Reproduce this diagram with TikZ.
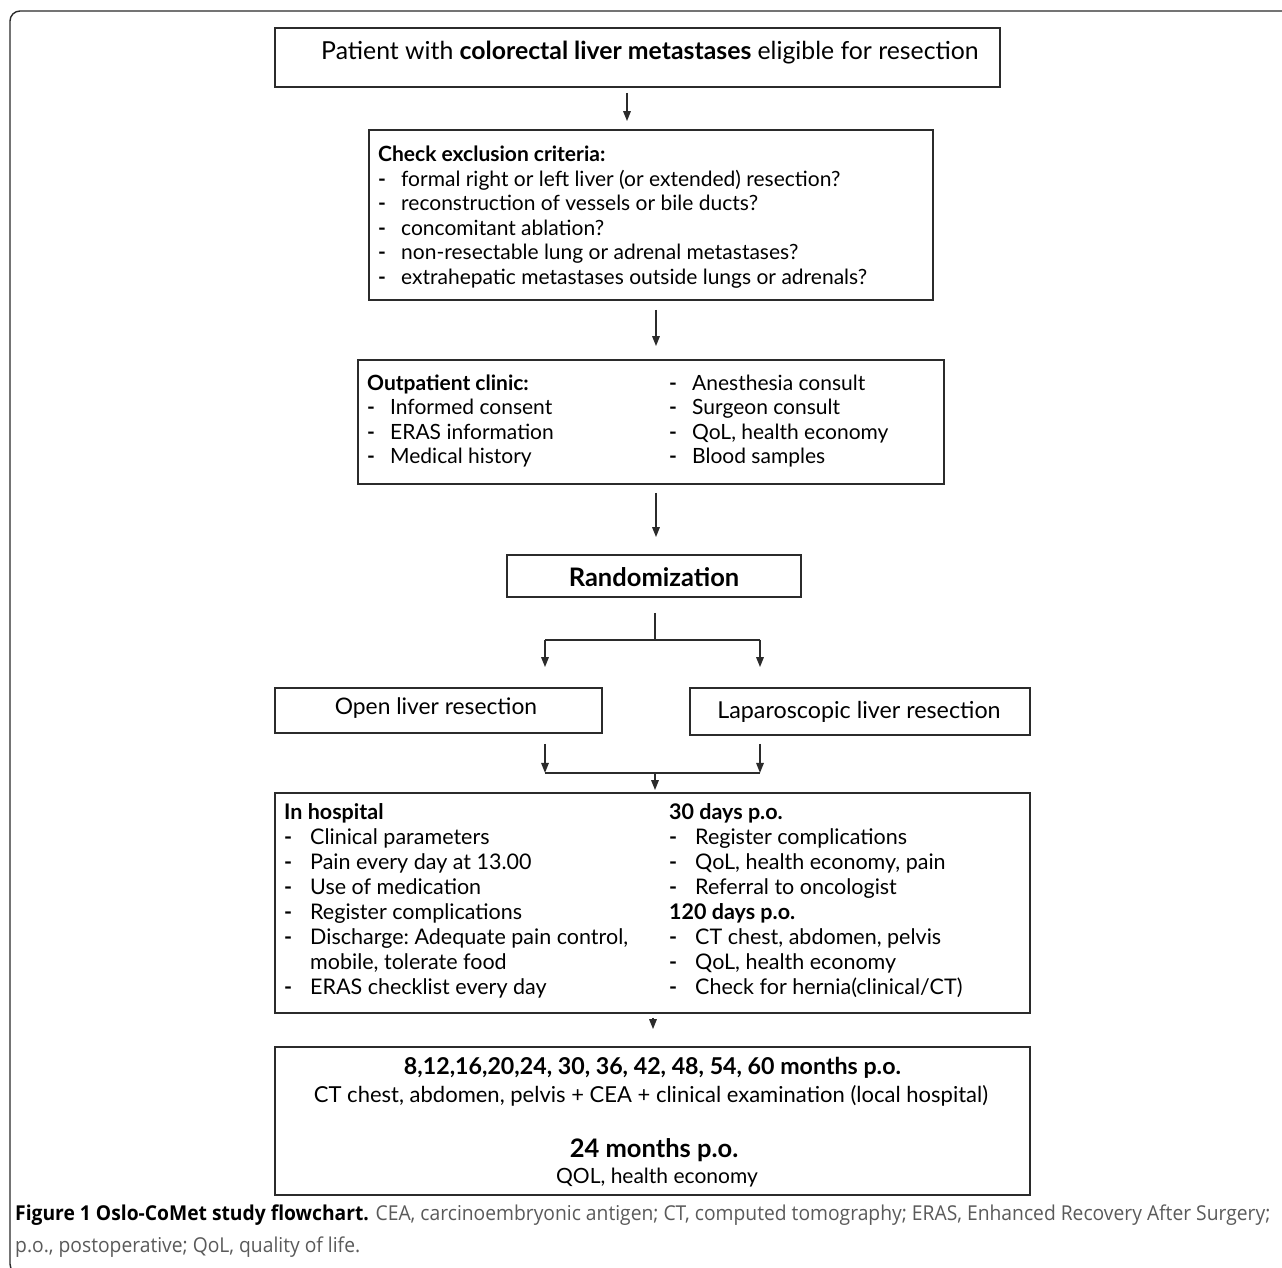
\documentclass[tikz,border=0pt]{standalone}
\usepackage{fontspec}
\setmainfont{Lato}
\newfontfamily\capfont{Open Sans}[FakeStretch=0.94]
\usetikzlibrary{arrows.meta,calc}
\definecolor{ln}{HTML}{2b2b2b}
\definecolor{capgrey}{HTML}{5a5a5a}
\tikzset{
  boxe/.style={draw=ln, line width=1.8pt, inner sep=0pt, fill=none},
  conn/.style={draw=ln, line width=1.6pt},
  arr/.style={conn, -{Triangle[length=10pt,width=7.5pt]}},
  txt/.style={inner sep=0pt, anchor=base west, text=black},
  ctxt/.style={inner sep=0pt, anchor=base, text=black},
}
\newcommand\fz{\fontsize{21}{24.5}\selectfont}
\newcommand\fzh{\fontsize{21.5}{25.1}\selectfont}
\newcommand\fsz[1]{\fontsize{#1}{1.2\dimexpr #1pt\relax}\selectfont}
\newcommand\itm[1]{\makebox[23pt][l]{\textbf{-}}#1}
\newcommand\itmh[1]{\makebox[26pt][l]{\textbf{-}}#1}
\begin{document}
\begin{tikzpicture}[x=1pt,y=-1pt]
\useasboundingbox (0,0) rectangle (1282,1268);
\fill[white] (0,0) rectangle (1282,1268);
% outer frame
\draw[draw=ln, line width=1.4pt, rounded corners=10pt] (40,1274) -- (10,1274) -- (10,11) -- (1300,11);

% boxes
\node[boxe, minimum width=725pt, minimum height=59pt] (top) at (637.5,57.5) {};
\node[boxe, minimum width=564pt, minimum height=170pt] (excl) at (651,215) {};
\node[boxe, minimum width=586pt, minimum height=124pt] (outp) at (651,422) {};
\node[boxe, minimum width=294pt, minimum height=42pt] (rand) at (654,576) {};
\node[boxe, minimum width=327pt, minimum height=45pt] (open) at (438.5,710.5) {};
\node[boxe, minimum width=340pt, minimum height=47pt] (lap) at (860,711.5) {};
\node[boxe, minimum width=755pt, minimum height=220pt] (hosp) at (652.5,903) {};
\node[boxe, minimum width=755pt, minimum height=148pt] (fu) at (652.5,1121) {};

% texts
\node[ctxt] (topT) at (650,60) {\fsz{24.8}Patient with \textbf{colorectal liver metastases} eligible for resection};

\node[txt] (exT) at (378,162) {\parbox[t]{545pt}{\fz\raggedright
\textbf{Check exclusion criteria:}\\
\itm{formal right or left liver (or extended) resection?}\\
\itm{reconstruction of vessels or bile ducts?}\\
\itm{concomitant ablation?}\\
\itm{non-resectable lung or adrenal metastases?}\\
\itm{extrahepatic metastases outside lungs or adrenals?}}};

\node[txt] (opL) at (367,390) {\parbox[t]{290pt}{\fz\raggedright
\textbf{Outpatient clinic:}\\
\itm{Informed consent}\\
\itm{ERAS information}\\
\itm{Medical history}}};
\node[txt] (opR) at (669,390) {\parbox[t]{270pt}{\fz\raggedright
\itm{Anesthesia consult}\\
\itm{Surgeon consult}\\
\itm{QoL, health economy}\\
\itm{Blood samples}}};

\node[ctxt] (randT) at (654,586) {\fsz{25.5}\textbf{Randomization}};
\node[ctxt] (openT) at (436,714) {\fsz{22.8}Open liver resection};
\node[ctxt] (lapT) at (859,718) {\fsz{23.3}Laparoscopic liver resection};

\node[txt] (hoL) at (284,819) {\parbox[t]{380pt}{\fzh\raggedright
\textbf{In hospital}\\
\itmh{Clinical parameters}\\
\itmh{Pain every day at 13.00}\\
\itmh{Use of medication}\\
\itmh{Register complications}\\
\itmh{Discharge:\ Adequate pain control,}\\
\hspace*{26pt}mobile, tolerate food\\
\itmh{ERAS checklist every day}}};
\node[txt] (hoR) at (669,819) {\parbox[t]{355pt}{\fzh\raggedright
\textbf{30 days p.o.}\\
\itmh{Register complications}\\
\itmh{QoL, health economy, pain}\\
\itmh{Referral to oncologist}\\
\textbf{120 days p.o.}\\
\itmh{CT chest, abdomen, pelvis}\\
\itmh{QoL, health economy}\\
\itmh{Check for hernia(clinical/CT)}}};

\node[ctxt] (fu1) at (652.5,1074) {\fsz{23.2}\textbf{8,12,16,20,24, 30, 36, 42, 48, 54, 60 months p.o.}};
\node[ctxt] (fu2) at (651,1102) {\fsz{22}CT chest, abdomen, pelvis + CEA + clinical examination (local hospital)};
\node[ctxt] (fu3) at (654,1157) {\fsz{25.5}\textbf{24 months p.o.}};
\node[ctxt] (fu4) at (657,1183) {\fsz{21}QOL, health economy};

% caption
\node[txt] (cap) at (15,1220) {\parbox[t]{1400pt}{\capfont\fontsize{20.5}{32}\selectfont\raggedright
\textbf{Figure 1 Oslo-CoMet study flowchart.} {\color{capgrey}CEA, carcinoembryonic antigen; CT, computed tomography; ERAS, Enhanced Recovery After Surgery;}\\
{\color{capgrey}p.o., postoperative; QoL, quality of life.}}};

% connectors
\coordinate (x1) at (627,0);
\coordinate (x2) at (656,0);
\coordinate (xl) at (545,0);
\coordinate (xr) at (760,0);
\coordinate (xc) at (655,0);
\coordinate (x3) at (653,0);
\draw[arr] ($(top.south -| x1)+(0,5)$) -- ($(excl.north -| x1)+(0,-8)$);
\draw[arr] ($(excl.south -| x2)+(0,9)$) -- ($(outp.north -| x2)+(0,-13)$);
\draw[arr] ($(outp.south -| x2)+(0,8)$) -- ($(rand.north -| x2)+(0,-17)$);
\coordinate (sp) at ($(rand.south -| xc)+(0,42)$);
\draw[conn] ($(rand.south -| xc)+(0,15)$) -- (sp);
\draw[conn] (sp -| xl) -- (sp -| xr);
\draw[arr] (sp -| xl) -- ($(open.north -| xl)+(0,-20)$);
\draw[arr] (sp -| xr) -- ($(lap.north -| xr)+(0,-20)$);
\coordinate (jn) at ($(open.south -| xc)+(0,39)$);
\draw[arr] ($(open.south -| xl)+(0,10)$) -- (jn -| xl);
\draw[arr] ($(open.south -| xr)+(0,10)$) -- (jn -| xr);
\draw[conn] (jn -| xl) -- (jn -| xr);
\draw[arr] (jn) -- ($(hosp.north -| xc)+(0,-2)$);
\draw[arr] ($(hosp.south -| x3)+(0,4)$) -- ($(fu.north -| x3)+(0,-17)$);
\end{tikzpicture}
\end{document}
